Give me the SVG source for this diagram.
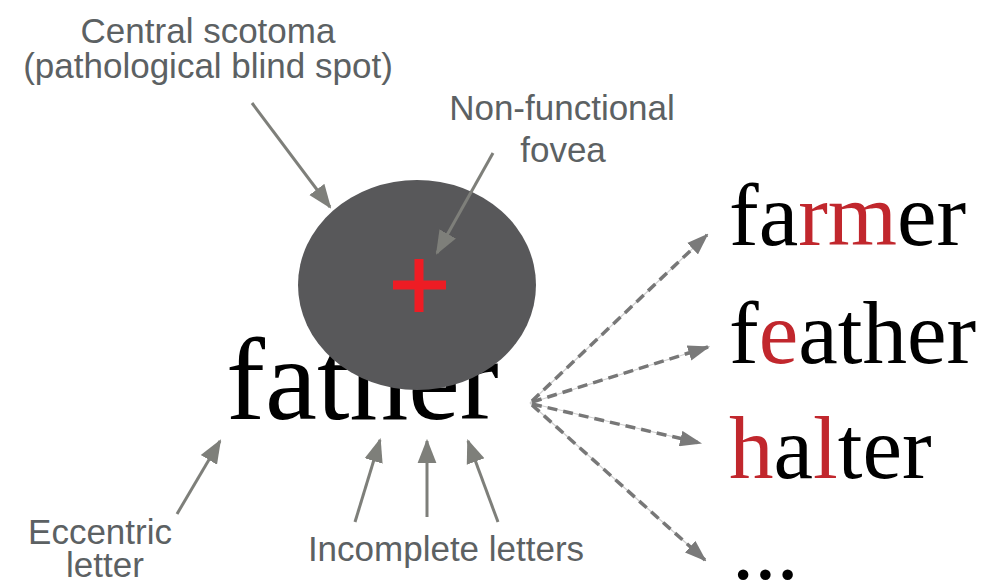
<svg xmlns="http://www.w3.org/2000/svg" width="993" height="582" viewBox="0 0 993 582">
<defs>
<style>
.lbl{font-family:"Liberation Sans",Arial,sans-serif;font-size:35px;fill:#5c6163;text-anchor:middle}
.word{font-family:"Liberation Serif","Times New Roman",serif;fill:#000}
.red{fill:#c1272d}
.sol{stroke:#7e7f7a;stroke-width:3;fill:none;marker-end:url(#ah)}
.thin{stroke:#cfcfcf;stroke-width:1.2;fill:none}
.dash{stroke:#777777;stroke-width:3.5;fill:none;stroke-dasharray:10 6;marker-end:url(#ahd)}
</style>
<marker id="ah" markerUnits="userSpaceOnUse" markerWidth="24" markerHeight="20" refX="21" refY="9" orient="auto" viewBox="0 0 23 18">
<path d="M0,0 L23,9 L0,18 Z" fill="#7e7f7a"/>
</marker>
<marker id="ahd" markerUnits="userSpaceOnUse" markerWidth="22" markerHeight="16" refX="19" refY="7.5" orient="auto" viewBox="0 0 21 15">
<path d="M0,0 L21,7.5 L0,15 Z" fill="#7a7a7a"/>
</marker>
</defs>
<rect width="993" height="582" fill="#fff"/>

<g id="father">
<text class="word" x="226" y="419" font-size="117">father</text>
</g>

<g id="scotoma">
<ellipse cx="417" cy="285" rx="119" ry="105" fill="#58585a"/>
<rect x="393" y="280.5" width="53" height="9" fill="#ee1c24"/>
<rect x="414.5" y="259" width="9" height="53" fill="#ee1c24"/>
</g>

<g id="label-scotoma">
<text class="lbl" x="208" y="43">Central scotoma</text>
<text class="lbl" x="208" y="78">(pathological blind spot)</text>
</g>
<g id="label-fovea">
<text class="lbl" x="562" y="120">Non-functional</text>
<text class="lbl" x="563" y="162">fovea</text>
</g>
<g id="label-eccentric">
<text class="lbl" x="100" y="544">Eccentric</text>
<text class="lbl" x="105" y="577">letter</text>
</g>
<g id="label-incomplete">
<text class="lbl" x="446" y="561">Incomplete letters</text>
</g>

<g id="candidates">
<text class="word" x="729" y="245" font-size="89">fa<tspan class="red">rm</tspan>er</text>
<text class="word" x="729" y="363" font-size="89">f<tspan class="red">e</tspan>ather</text>
<text class="word" x="729" y="478" font-size="89"><tspan class="red">h</tspan>a<tspan class="red">l</tspan>ter</text>
<text class="word" x="732" y="579" font-size="89">...</text>
</g>

<g id="connectors">
<line class="sol" x1="252" y1="103" x2="330" y2="207"/>
<line class="sol" x1="493" y1="153" x2="437" y2="253"/>
<line class="sol" x1="177" y1="514" x2="220" y2="441"/>
<line class="sol" x1="355" y1="522" x2="380" y2="440"/>
<line class="sol" x1="427" y1="517" x2="427" y2="441"/>
<line class="sol" x1="498" y1="522" x2="468" y2="441"/>

<line class="thin" x1="530" y1="403" x2="707" y2="235"/>
<line class="thin" x1="530" y1="403" x2="708" y2="347"/>
<line class="thin" x1="530" y1="403" x2="700" y2="443"/>
<line class="thin" x1="530" y1="403" x2="705" y2="560"/>
<line class="dash" x1="532" y1="401" x2="707" y2="235"/>
<line class="dash" x1="532" y1="402" x2="708" y2="347"/>
<line class="dash" x1="532" y1="404" x2="700" y2="443"/>
<line class="dash" x1="532" y1="405" x2="705" y2="560"/>
</g>
</svg>
